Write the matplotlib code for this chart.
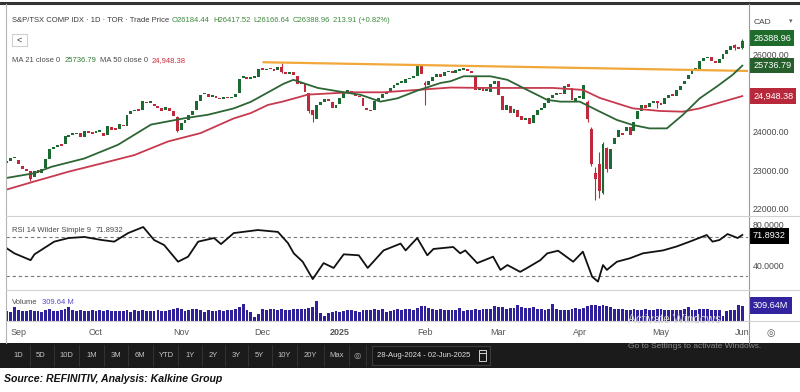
import matplotlib
matplotlib.use('Agg')
import matplotlib.pyplot as plt
import matplotlib.transforms as mtransforms
from matplotlib.lines import Line2D
from matplotlib.patches import Rectangle
import numpy as np
import pandas as pd

plt.rcParams['font.family'] = ['Liberation Sans', 'DejaVu Sans']

# --- data --------------------------------------------------------------------
holidays = ['2024-09-02', '2024-10-14', '2024-12-25', '2024-12-26', '2025-01-01',
            '2025-02-17', '2025-04-18', '2025-05-19']
dates = pd.bdate_range('2024-08-28', '2025-06-02')
dates = dates[~dates.isin(pd.to_datetime(holidays))]

opens = [
    23220, 23270, 23340,
    23300, 23150, 23060, 23000, 22850, 23030, 22950, 23080, 23320, 23580, 23620, 23690, 23700, 23900, 23950, 23960, 24000, 23900, 24040, 23990,
    23980, 24030, 24000, 23950, 24150, 24080, 24090, 24200, 24180, 24480, 24560, 24600, 24590, 24800, 24770, 24750, 24690, 24640, 24580, 24650, 24550, 24400,
    24080, 24260, 24320, 24450, 24600, 24830, 24990, 24990, 24930, 24950, 24890, 24870, 24900, 24890, 24930, 25040, 25420, 25450, 25400, 25420, 25450,
    25640, 25620, 25650, 25640, 25620, 25690, 25560, 25530, 25560, 25480, 25300, 25250, 25020, 24580, 24350, 24720, 24800, 24880, 24800, 24650,
    24740, 24900, 25060, 25090, 24990, 24960, 24900, 24650, 24590, 24600, 24830, 24900, 25010, 25070, 25160, 25240, 25290, 25300, 25380, 25430, 25480, 25790,
    25300, 25240, 25350, 25450, 25520, 25460, 25560, 25590, 25540, 25600, 25630, 25650, 25600, 25450, 25110, 25150, 25090, 25050, 25250,
    25330, 24950, 24600, 24700, 24500, 24600, 24420, 24330, 24370, 24240, 24450, 24600, 24650, 24780, 24900, 24980, 25030, 25000, 25250, 25150, 24800,
    24900, 24880, 24800, 24100, 22950, 23200, 22450, 23600, 23050, 23700, 23900, 24000, 24050, 24150, 24050, 24350, 24560, 24720, 24660, 24760, 24820,
    24760, 24740, 24900, 24980, 24960, 25100, 25250, 25400, 25520, 25620, 25650, 25850, 25930, 25950, 25850, 25800, 25900, 26050, 26150, 26280, 26220,
    26184.44,
]
closes = [
    23267, 23346, 23347,
    23187, 23050, 22997, 22795, 23020, 22960, 23070, 23310, 23568, 23611, 23681, 23656, 23926, 23953, 23956, 24005, 23884, 24033, 24000, 23968,
    24040, 24033, 23922, 24162, 24071, 24070, 24223, 24162, 24471, 24557, 24590, 24568, 24822, 24768, 24791, 24685, 24629, 24563, 24668, 24564, 24436, 24051,
    24255, 24335, 24446, 24567, 24820, 24982, 25000, 24924, 24948, 24904, 24870, 24920, 24887, 24920, 25010, 25400, 25461, 25390, 25400, 25442, 25648,
    25626, 25661, 25643, 25600, 25692, 25560, 25523, 25563, 25490, 25274, 25250, 25050, 24559, 24459, 24718, 24795, 24880, 24820, 24648, 24728,
    24900, 25050, 25080, 25000, 24950, 24920, 24700, 24600, 24560, 24820, 24900, 25000, 25060, 25150, 25240, 25280, 25350, 25380, 25420, 25480, 25790, 25520,
    25230, 25350, 25450, 25530, 25450, 25560, 25600, 25540, 25620, 25650, 25660, 25600, 25540, 25100, 25150, 25080, 25120, 25250, 25330,
    24980, 24600, 24720, 24500, 24620, 24400, 24320, 24380, 24230, 24450, 24600, 24650, 24780, 24900, 24970, 25030, 25000, 25200, 25180, 24850, 24900,
    24950, 25230, 24350, 23200, 22800, 22500, 23700, 23050, 23590, 23850, 24060, 23950, 24150, 23950, 24290, 24560, 24720, 24650, 24760, 24820, 24760,
    24730, 24900, 24980, 24960, 25100, 25220, 25350, 25500, 25600, 25680, 25850, 25930, 25960, 25850, 25800, 25900, 26050, 26150, 26250, 26200, 26175,
    26388.96,
]
# visible wicks: day index -> (low, high)
wicks = {6: (22760, 23010), 44: (24020, 24420), 71: (25540, 25800), 78: (24520, 25030),
         79: (24290, 24600), 108: (24730, 25330), 150: (24290, 24850), 151: (23150, 24150),
         152: (22250, 23100), 153: (22300, 23500), 154: (22400, 23750), 155: (22980, 23640),
         168: (24650, 24830), 188: (26150, 26310), 190: (26166.64, 26417.52)}

ma21_x = [0, 7, 11.5, 20, 28.7, 37.2, 45.7, 52, 58.6, 63, 65.6, 71.5, 74, 80.3, 86, 91.4, 96.5,
          100.9, 106, 112, 114.6, 118, 124.9, 129.3, 134.4, 139.6, 143, 148, 153.2, 157.6, 161.7,
          166, 170.5, 174.6, 179, 183.4, 187.5, 190]
ma21_y = [22830, 22950, 23117, 23333, 23688, 24210, 24371, 24467, 24630, 24800, 24943, 25270, 25370,
          25160, 25065, 24980, 24805, 24891, 25090, 25288, 25333, 25462, 25462, 25370, 25109, 24850,
          24805, 24805, 24545, 24330, 24200, 24112, 24112, 24459, 24891, 25195, 25500, 25736.79]
ma50_x = [0, 7, 15.9, 24.4, 32.9, 41.6, 50, 58.6, 63, 67.4, 71.5, 75.9, 77.7, 88.8, 97.3, 106, 114.6,
          124, 132.6, 141, 148.8, 153.2, 161.7, 168.7, 174.6, 179, 185, 190]
ma50_y = [22530, 22735, 22990, 23203, 23420, 23773, 23989, 24371, 24509, 24719, 24813, 24935, 24987,
          25047, 25047, 25109, 25170, 25160, 25160, 25160, 25109, 24900, 24631, 24563, 24545, 24631,
          24805, 24948.38]
trend_x = [66, 191.5]
trend_y = [25826, 25600]

rsi_x = [0, 1.9, 6.1, 7.1, 12.2, 15.9, 20, 24.4, 27.7, 31.3, 35.2, 38, 40.6, 44.2, 46.8, 49.4, 53.5,
         55.3, 58.6, 64.8, 70, 72.6, 74.1, 76.4, 79, 81.8, 84.4, 87, 90.9, 93.2, 97.3, 101.7, 103, 106,
         108.6, 110.2, 115.3, 117.1, 118.4, 121.5, 124, 125.6, 127.5, 129.3, 132.6, 134.4, 137.8,
         139.6, 142.4, 146.3, 148.8, 151.2, 152.7, 154, 155, 157.6, 161, 164.3, 169.5, 173, 176.4,
         180.8, 182.3, 184.1, 186.2, 188.8, 190]
rsi_y = [58, 53, 46, 52, 65, 68.7, 69.8, 66.7, 65, 73.8, 80, 66.7, 61.5, 44.4, 49.6, 65, 68.7, 62.5,
         73.8, 76.9, 75, 63.5, 53, 44.4, 26.6, 43, 38, 52, 51, 38, 56, 63, 56, 68.7, 51, 57.5, 59.5, 53,
         56, 43, 47, 49.6, 36, 41, 34, 38, 46, 53, 55.7, 44.4, 54.7, 29, 24, 41, 36, 44.4, 48, 53, 56,
         60, 65, 71.8, 65, 66.7, 72.8, 68.7, 71.8932]

volume = [
    215, 200, 290,
    230, 210, 220, 240, 205, 215, 200, 230, 250, 215, 210, 230, 245, 300, 225, 210, 235, 220, 215, 240,
    210, 225, 215, 230, 205, 220, 210, 215, 225, 200, 230, 215, 240, 210, 220, 205, 225, 215, 220, 230, 250, 280,
    250, 215, 240, 260, 245, 225, 200, 230, 215, 220, 240, 210, 225, 235, 250, 300, 355, 230, 200, 95, 150,
    260, 230, 250, 245, 235, 250, 240, 230, 245, 260, 250, 255, 280, 300, 420, 180, 110, 160, 200, 210,
    190, 210, 230, 225, 215, 190, 230, 240, 230, 250, 225, 260, 200, 220, 230, 245, 235, 250, 260, 240, 275, 310,
    320, 280, 250, 240, 245, 230, 235, 240, 230, 270, 220, 235, 230, 260, 240, 250, 255, 260, 330,
    290, 300, 260, 280, 270, 340, 300, 280, 270, 290, 260, 255, 240, 250, 360, 250, 230, 240, 235, 260, 270,
    265, 270, 320, 340, 350, 330, 340, 310, 290, 260, 255, 245, 240, 235, 245, 240, 230, 250, 240, 230, 260,
    250, 240, 230, 225, 235, 240, 245, 300, 240, 235, 250, 255, 245, 240, 225, 230, 115, 210, 230, 240, 350,
    309.64,
]

month_names = ['Sep', 'Oct', 'Nov', 'Dec', '2025', 'Feb', 'Mar', 'Apr', 'May', 'Jun']
buttons = ['1D', '5D', '10D', '1M', '3M', '6M', 'YTD', '1Y', '2Y', '3Y', '5Y', '10Y', '20Y', 'Max']

GREEN = '#1b6a31'
RED = '#c0283e'
MA21_COL = '#2d6534'
MA50_COL = '#c73a4e'
ORANGE = '#f2a73a'
VOL_COL = '#2f2199'
GRAY = '#4a4a4a'

# --- layout helpers (pixel coordinates, origin top-left) ----------------------
W, H = 800, 392
fig = plt.figure(figsize=(W / 100, H / 100), dpi=100)
renderer = fig.canvas.get_renderer()


def box(x0, y0, x1, y1):
    return [x0 / W, 1 - y1 / H, (x1 - x0) / W, (y1 - y0) / H]


def ftext(x, y, s, **kw):
    kw.setdefault('va', 'center')
    kw.setdefault('ha', 'left')
    return fig.text(x / W, 1 - y / H, s, **kw)


def run_text(x, y, parts, size, gap=3):
    # write coloured pieces one after another on a line
    for s, col in parts:
        t = ftext(x, y, s, fontsize=size, color=col)
        x += t.get_window_extent(renderer=renderer).width + gap


def fline(xs, ys, **kw):
    fig.add_artist(Line2D([x / W for x in xs], [1 - y / H for y in ys], **kw))


def frect(x0, y0, x1, y1, **kw):
    fig.add_artist(Rectangle((x0 / W, 1 - y1 / H), (x1 - x0) / W, (y1 - y0) / H, **kw))


def clean(a):
    for s in a.spines.values():
        s.set_visible(False)
    a.set_xticks([])
    a.set_yticks([])
    a.patch.set_alpha(0)


x_lim = (-0.26, 191.47)

# --- price panel ---------------------------------------------------------------
ax = fig.add_axes(box(6, 8, 748, 216))
clean(ax)
ax.set_xlim(*x_lim)
ax.set_ylim(21842, 27231)

o = np.array(opens, dtype=float)
c = np.array(closes, dtype=float)
idx = np.arange(len(c))
cols = np.where(c >= o, GREEN, RED)
for i, (lo, hi) in wicks.items():
    ax.vlines(i, lo, hi, color=cols[i], lw=0.8, zorder=2)
ax.bar(idx, np.maximum(np.abs(c - o), 40), bottom=np.minimum(o, c), width=0.75,
       color=cols, linewidth=0, zorder=3)
ax.plot(trend_x, trend_y, color=ORANGE, lw=1.6, zorder=4, solid_capstyle='butt')
ax.plot(ma50_x, ma50_y, color=MA50_COL, lw=1.3, zorder=4)
ax.plot(ma21_x, ma21_y, color=MA21_COL, lw=1.3, zorder=4)

tr = mtransforms.blended_transform_factory(ax.transAxes, ax.transData)
lx = (753 - 6) / 742
for v in [22000, 23000, 24000, 26000]:
    ax.text(lx, v, f'{v:.2f}', transform=tr, clip_on=False, fontsize=6.3, color=GRAY,
            va='center', ha='left', zorder=5)
for v, s, fc in [(closes[-1] + 60, '26388.96', '#1f6b2c'), (ma21_y[-1], '25736.79', '#275f2c'),
                 (ma50_y[-1], '24,948.38', '#b8283b')]:
    ax.text(lx, v, s, transform=tr, clip_on=False, fontsize=6.6, color='white', va='center',
            ha='left', zorder=6, bbox=dict(boxstyle='square,pad=0.35', fc=fc, ec='none'))

# --- RSI panel -----------------------------------------------------------------
ax_r = fig.add_axes(box(6, 216, 748, 290))
clean(ax_r)
ax_r.set_xlim(*x_lim)
ax_r.set_ylim(15.4, 91.3)
for lvl in (70, 30):
    ax_r.axhline(lvl, color='#7a7a7a', lw=0.8, ls=(0, (3, 2.5)))
ax_r.plot(rsi_x, rsi_y, color='#111111', lw=1.3)
tr_r = mtransforms.blended_transform_factory(ax_r.transAxes, ax_r.transData)
ax_r.text(lx, 81.5, '80.0000', transform=tr_r, clip_on=False, fontsize=6.3, color=GRAY,
          va='center', ha='left', zorder=5)
ax_r.text(lx, 40, '40.0000', transform=tr_r, clip_on=False, fontsize=6.3, color=GRAY,
          va='center', ha='left', zorder=5)
ax_r.text(lx, rsi_y[-1] - 1, '71.8932', transform=tr_r, clip_on=False, fontsize=6.6, color='white',
          va='center', ha='left', zorder=6, bbox=dict(boxstyle='square,pad=0.35', fc='black', ec='none'))

# --- volume panel --------------------------------------------------------------
ax_v = fig.add_axes(box(6, 290, 748, 321))
clean(ax_v)
ax_v.set_xlim(*x_lim)
ax_v.set_ylim(0, 660)
ax_v.bar(idx, volume, width=0.74, color=VOL_COL, linewidth=0)
tr_v = mtransforms.blended_transform_factory(ax_v.transAxes, ax_v.transData)
ax_v.text(lx, volume[-1] + 20, '309.64M', transform=tr_v, clip_on=False, fontsize=6.6, color='white',
          va='center', ha='left', zorder=6, bbox=dict(boxstyle='square,pad=0.4', fc='#33239e', ec='none'))

# month labels at first trading day of each month
firsts = [i for i in range(1, len(dates)) if dates[i].month != dates[i - 1].month]
tr_x = mtransforms.blended_transform_factory(ax_v.transData, ax_v.transAxes)
for i, name in zip(firsts, month_names):
    ax_v.text(i, -0.38, name, transform=tr_x, clip_on=False, fontsize=6.5, color='#555555',
              ha='center', va='center', fontweight='bold' if name == '2025' else 'normal')

# --- frame, headers, overlays ----------------------------------------------------
fline([0, 800], [3, 3], color='#333333', lw=2.2)
fline([6, 6], [4, 343], color='#b5b5b5', lw=0.8)
fline([748.5, 748.5], [4, 343], color='#9a9a9a', lw=0.8)
for y in (216, 290, 321):
    fline([6, 800], [y, y], color='#d2d2d2', lw=0.8)

hdr = 5.5
run_text(12, 21, [('S&P/TSX COMP IDX · 1D · TOR · Trade Price', '#3a3a3a'),
                  ('O26184.44', '#3d8a3d'), ('H26417.52', '#3d8a3d'), ('L26166.64', '#3d8a3d'),
                  ('C26388.96', '#3d8a3d'), ('213.91 (+0.82%)', '#3d8a3d')], hdr, gap=3)
frect(12, 34, 27, 46, fc='white', ec='#cfcfcf', lw=0.8)
ftext(19.5, 40, '<', fontsize=6.5, color='#333333', ha='center')
run_text(12, 61, [('MA 21 close 0', '#4a4a4a'), ('25736.79', '#2f7a34'),
                  ('MA 50 close 0', '#4a4a4a'), ('24,948.38', '#cc2b3c')], hdr, gap=4)
run_text(12, 230, [('RSI 14 Wilder Simple 9', '#4a4a4a'), ('71.8932', '#4a4a4a')], hdr, gap=5)
run_text(12, 302, [('Volume', '#4a4a4a'), ('309.64 M', '#5448c8')], hdr, gap=5)

ftext(754, 22, 'CAD', fontsize=6, color='#444444')
ftext(789, 22, '▾', fontsize=5, color='#666666')
ftext(771, 333, '◎', fontsize=7, color='#555555', ha='center', family='DejaVu Sans')

# toolbar
frect(0, 343, 800, 368, fc='#1b1b1b', ec='none')
btn_x = [18, 41, 66, 92, 116, 140, 166, 190, 213, 236, 259, 284, 310, 337]
for bx, b in zip(btn_x, buttons):
    ftext(bx, 355.5, b, fontsize=5.5, color='#c4c4c4', ha='center')
for k in range(len(btn_x) - 1):
    sx = (btn_x[k] + btn_x[k + 1]) / 2
    fline([sx, sx], [345, 366], color='#333333', lw=0.7)
fline([349, 349], [345, 366], color='#333333', lw=0.7)
fline([366, 366], [345, 366], color='#333333', lw=0.7)
ftext(357, 355.5, '◎', fontsize=6, color='#aaaaaa', ha='center', family='DejaVu Sans')
frect(372, 346, 490, 365, fc='#161616', ec='#3c3c3c', lw=0.8)
ftext(377, 355.5, '28-Aug-2024 - 02-Jun-2025', fontsize=5.5, color='#e0e0e0')
frect(479, 350, 486, 361, fc='none', ec='#d0d0d0', lw=0.7)
fline([479, 486], [352.5, 352.5], color='#d0d0d0', lw=0.7)

# screenshot watermark
ftext(628, 320, 'Activate Windows', fontsize=8.5, color='#cfcfcf', zorder=10)
ftext(628, 346, 'Go to Settings to activate Windows.', fontsize=6, color='#8a8a8a', zorder=10)

ftext(4, 379, 'Source: REFINITIV, Analysis: Kalkine Group', fontsize=7.6, color='#111111',
      fontweight='bold', fontstyle='italic')

fig.savefig('out.png', dpi=100)
